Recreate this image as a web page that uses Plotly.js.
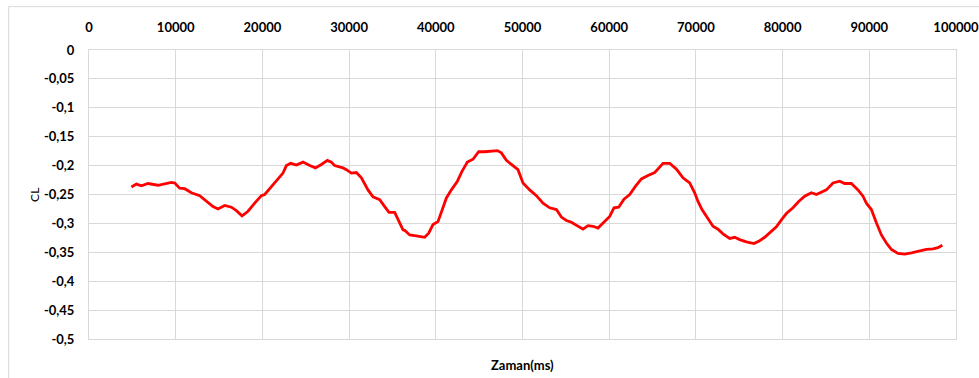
<!DOCTYPE html>
<html>
<head>
<meta charset="utf-8">
<script src="https://cdn.plot.ly/plotly-3.0.1.min.js"></script>
<style>html,body{margin:0;padding:0;background:#fff;}#chart{width:979px;height:378px;}</style>
</head>
<body>
<div id="chart"></div>
<script>
// Time (ms)
const zaman = [4890,5467,6044,6805,7958,8731,9504,9885,10461,11038,11811,12768,13541,14302,14879,15652,16424,17001,17647,18339,19112,19885,
  20265,21038,21799,22376,22768,23264,23921,24683,25456,26113,26805,27497,27958,28339,29296,29689,30265,30842,31419,32180,32757,33530,34106,34602,35260,35836,36217,
  36413,36990,37567,38143,38720,39181,39677,40253,40715,41223,41799,42491,43022,43645,44290,44948,45640,46413,47105,47566,48143,48720,49481,50057,50830,51603,52364,
  53137,53910,54487,55063,55640,56401,56978,57555,58131,58708,59400,60058,60554,61096,61707,62364,63022,63714,64475,65248,65744,66205,66978,67750,68511,
  69285,69861,70242,70704,71326,71972,72549,73126,73899,74475,75052,75825,76701,77243,77935,78627,79285,79862,80438,81199,81857,82549,83322,83899,84279,
  85052,85813,86586,87163,87935,88697,89273,89666,90242,90819,91396,91972,92549,93310,94083,94856,95813,96586,97347,97924,98431];
// Lift coefficient CL
const cl = [-0.237,-0.232,-0.235,-0.231,-0.234,-0.231,-0.229,-0.230,-0.239,-0.240,-0.247,-0.252,-0.262,-0.271,-0.275,-0.269,-0.272,-0.278,-0.287,-0.279,-0.265,-0.252,
  -0.250,-0.236,-0.224,-0.213,-0.200,-0.196,-0.199,-0.194,-0.200,-0.204,-0.198,-0.191,-0.194,-0.200,-0.204,-0.207,-0.213,-0.212,-0.221,-0.242,-0.254,-0.259,-0.271,-0.281,-0.281,-0.299,-0.311,
  -0.312,-0.320,-0.321,-0.322,-0.324,-0.317,-0.302,-0.297,-0.276,-0.256,-0.242,-0.227,-0.210,-0.194,-0.189,-0.176,-0.176,-0.175,-0.174,-0.178,-0.191,-0.198,-0.207,-0.230,-0.242,-0.252,-0.265,
  -0.273,-0.276,-0.289,-0.295,-0.298,-0.305,-0.310,-0.304,-0.305,-0.308,-0.298,-0.288,-0.273,-0.272,-0.258,-0.250,-0.236,-0.223,-0.217,-0.212,-0.204,-0.196,-0.196,-0.206,-0.221,
  -0.230,-0.247,-0.262,-0.276,-0.291,-0.305,-0.310,-0.318,-0.326,-0.324,-0.328,-0.332,-0.335,-0.331,-0.324,-0.314,-0.306,-0.294,-0.283,-0.273,-0.262,-0.253,-0.247,-0.250,-0.247,
  -0.242,-0.230,-0.227,-0.231,-0.231,-0.242,-0.253,-0.265,-0.276,-0.299,-0.320,-0.334,-0.345,-0.352,-0.353,-0.351,-0.348,-0.345,-0.344,-0.342,-0.338];

const xTickVals = [0,10000,20000,30000,40000,50000,60000,70000,80000,90000,100000];
const xTickText = ["0","10000","20000","30000","40000","50000","60000","70000","80000","90000","100000"];
const yTickVals = [0,-0.05,-0.1,-0.15,-0.2,-0.25,-0.3,-0.35,-0.4,-0.45,-0.5];
const yTickText = ["0","-0,05","-0,1","-0,15","-0,2","-0,25","-0,3","-0,35","-0,4","-0,45","-0,5"];

const grid = '#d9d9d9';
const tickFont = {family: 'Lato, "Open Sans", sans-serif', size: 13, color: '#000', weight: 'bold'};

const trace = {
  x: zaman, y: cl, type: 'scatter', mode: 'lines',
  line: {color: '#ff0000', width: 2.8}, hoverinfo: 'skip'
};

const layout = {
  width: 979, height: 378,
  margin: {l: 89, r: 23, t: 50, b: 39, pad: 0},
  paper_bgcolor: '#fff', plot_bgcolor: '#fff',
  showlegend: false,
  xaxis: {
    side: 'top', range: [0, 100002], tickmode: 'array', tickvals: xTickVals, ticktext: xTickText,
    showgrid: true, gridcolor: grid, gridwidth: 1, zeroline: false,
    showline: true, mirror: true, linecolor: grid, linewidth: 1,
    ticks: '', ticklabelstandoff: 12, ticklabeloverflow: 'allow', tickfont: tickFont, fixedrange: true
  },
  yaxis: {
    range: [-0.5, 0], tickmode: 'array', tickvals: yTickVals, ticktext: yTickText,
    showgrid: true, gridcolor: grid, gridwidth: 1, zeroline: false,
    showline: true, mirror: true, linecolor: grid, linewidth: 1,
    ticks: '', ticklabelstandoff: 11, ticklabeloverflow: 'allow', tickfont: tickFont, fixedrange: true
  },
  annotations: [
    {text: 'Zaman(ms)', xref: 'paper', yref: 'paper', x: 0.5, y: -0.09, xanchor: 'center', yanchor: 'middle',
     showarrow: false, font: {family: 'Lato, "Open Sans", sans-serif', size: 13, color: '#000', weight: 'bold'}},
    {text: 'CL', xref: 'paper', yref: 'paper', x: -0.063, y: 0.5, xanchor: 'center', yanchor: 'middle', textangle: -90,
     showarrow: false, font: {family: 'Lato, "Open Sans", sans-serif', size: 12, color: '#000'}}
  ],
  shapes: [
    {type: 'line', xref: 'paper', yref: 'paper', x0: -0.0927, x1: 1.03, y0: 1.15, y1: 1.15, line: {color: '#d9d9d9', width: 1}},
    {type: 'line', xref: 'paper', yref: 'paper', x0: -0.0927, x1: -0.0927, y0: 1.15, y1: -0.14, line: {color: '#d9d9d9', width: 1}}
  ]
};

Plotly.newPlot('chart', [trace], layout, {staticPlot: true, displayModeBar: false});
</script>
</body>
</html>
